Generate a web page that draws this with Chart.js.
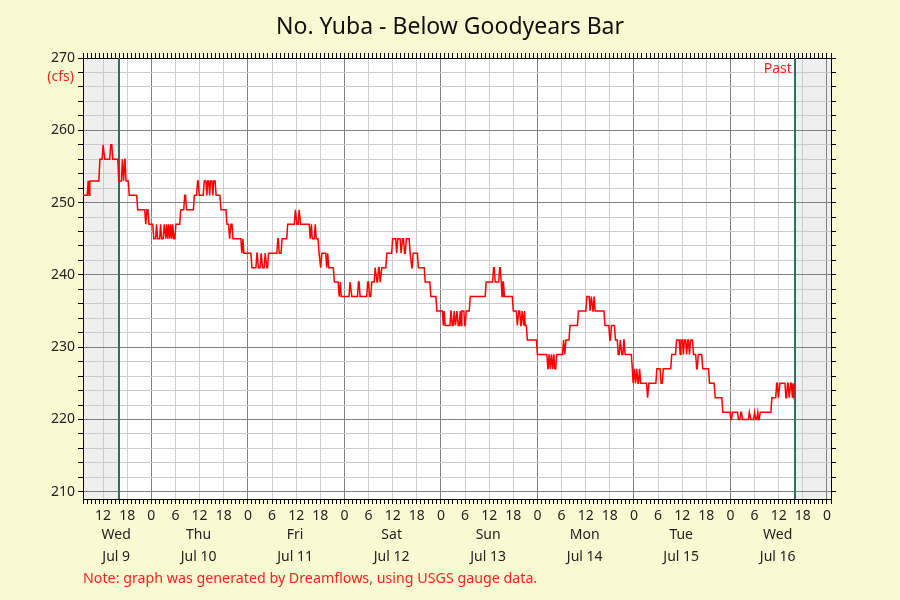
<!DOCTYPE html>
<html>
<head>
<meta charset="utf-8">
<title>No. Yuba - Below Goodyears Bar</title>
<script src="https://cdn.jsdelivr.net/npm/chart.js@4.4.0/dist/chart.umd.min.js"></script>
<style>
  html, body { margin: 0; padding: 0; background: #fafad2; }
  #wrap { width: 900px; height: 600px; position: relative; }
</style>
</head>
<body>
<div id="wrap"><canvas id="flow"></canvas></div>
<script>
// hours counted from Jul 9 00:00; each entry is a time where the gauge reading changes
const changeHours = [
  7.0, 8.3, 8.5, 8.7, 11.2, 12.0, 12.4, 13.9, 14.4, 15.9, 16.8, 17.1, 17.4, 17.7, 18.5, 20.6,
  22.6, 22.9, 23.4, 24.6, 25.3, 25.55, 26.3, 26.55, 27.2, 27.6, 27.8, 28.1, 28.3, 28.6, 28.8, 29.1,
  29.3, 29.6, 30.1, 31.3, 32.3, 32.75, 34.7, 35.5, 35.9, 37.15, 37.8, 38.0, 38.5, 38.7, 39.3, 39.5,
  40.1, 41.3, 42.8, 43.45, 43.8, 44.3, 46.5, 46.75, 47.0, 49.0, 50.25, 50.6, 51.3, 51.65, 52.3, 52.7,
  53.15, 55.45, 55.8, 56.5, 57.9, 59.8, 60.2, 60.75, 61.1, 63.5, 63.8, 64.0, 64.75, 65.0, 65.7, 66.1,
  66.4, 67.6, 67.85, 68.1, 69.5, 70.7, 71.0, 71.2, 73.4, 73.85, 75.5, 75.9, 77.8, 78.25, 78.8, 79.65,
  80.1, 80.5, 80.9, 81.3, 82.55, 84.0, 85.0, 85.3, 86.1, 86.45, 86.95, 87.4, 88.35, 88.75, 89.1, 90.4,
  92.1, 93.5, 95.0, 96.6, 96.8, 97.05, 98.5, 98.8, 99.3, 99.6, 100.0, 100.3, 100.8, 101.0, 101.2, 101.95,
  102.3, 103.3, 107.25, 109.1, 109.5, 110.6, 111.0, 111.2, 111.4, 111.8, 114.0, 115.0, 115.35, 115.85, 116.2, 116.6,
  116.8, 116.95, 117.5, 120.0, 122.6, 122.9, 123.2, 123.5, 123.8, 124.1, 124.3, 124.8, 126.5, 126.8, 127.1, 128.1,
  130.2, 132.3, 133.1, 133.4, 133.8, 134.1, 134.35, 136.8, 138.0, 138.4, 139.4, 140.1, 140.6, 141.0, 141.5, 141.8,
  143.6, 143.8, 144.1, 144.4, 144.7, 145.0, 145.4, 145.7, 147.4, 147.7, 149.7, 150.75, 151.3, 153.4, 154.6, 155.5,
  155.7, 156.3, 156.55, 157.1, 157.4, 157.8, 158.1, 158.8, 159.6, 160.0, 161.1, 162.8, 164.2, 166.1, 168.1, 168.5,
  170.0, 170.6, 171.0, 172.7, 173.05, 174.0, 174.3, 174.8, 175.0, 175.4, 178.3, 179.5, 179.9, 180.3, 181.8, 182.2,
  182.6, 183.0, 183.4, 183.6, 183.75, 183.85
];
const flowCfs = [
  251, 253, 251, 253, 256, 258, 256, 258, 256, 253, 256, 253, 256, 253, 251, 249,
  247, 249, 247, 245, 247, 245, 247, 245, 247, 245, 247, 245, 247, 245, 247, 245,
  247, 245, 247, 249, 251, 249, 251, 253, 251, 253, 251, 253, 251, 253, 251, 253,
  251, 249, 247, 245, 247, 245, 243, 245, 243, 241, 243, 241, 243, 241, 243, 241,
  243, 245, 243, 245, 247, 249, 247, 249, 247, 245, 247, 245, 247, 245, 243, 241,
  243, 241, 243, 241, 239, 237, 239, 237, 239, 237, 239, 237, 239, 237, 239, 241,
  239, 241, 239, 241, 243, 245, 243, 245, 243, 245, 243, 245, 243, 241, 243, 241,
  239, 237, 235, 233, 235, 233, 235, 233, 235, 233, 235, 233, 235, 233, 235, 233,
  235, 237, 239, 241, 239, 241, 239, 237, 239, 237, 235, 233, 235, 233, 235, 233,
  235, 233, 231, 229, 227, 229, 227, 229, 227, 229, 227, 229, 231, 229, 231, 233,
  235, 237, 235, 237, 235, 237, 235, 233, 231, 233, 231, 229, 231, 229, 231, 229,
  227, 225, 227, 225, 227, 225, 227, 225, 223, 225, 227, 225, 227, 229, 231, 229,
  231, 229, 231, 229, 231, 229, 231, 229, 227, 229, 227, 225, 223, 221, 220, 221,
  220, 221, 220, 221, 220, 221, 220, 221, 220, 221, 223, 225, 223, 225, 223, 225,
  223, 225, 223, 225, 223, 223
];
const weekdays = ['Wed', 'Thu', 'Fri', 'Sat', 'Sun', 'Mon', 'Tue', 'Wed'];
const dates = ['Jul 9', 'Jul 10', 'Jul 11', 'Jul 12', 'Jul 13', 'Jul 14', 'Jul 15', 'Jul 16'];
const cfsLabels = [210, 220, 230, 240, 250, 260, 270];

const xMin = 7, xMax = 193;          // Jul 9 07:00 .. Jul 17 01:00
const windowStart = 16, windowEnd = 184;  // unshaded 7-day window
const yMin = 209, yMax = 270;
const sampleStep = 0.25;             // gauge reports every 15 minutes

const red = '#ff1e1e';
const font = 'Noto Sans';

let hourTicks = [];
for (let h = xMin; h <= xMax; h++) hourTicks.push(h);
let cfsTicks = [];
for (let v = cfsLabels[0]; v <= cfsLabels[cfsLabels.length - 1]; v += 2) cfsTicks.push(v);

// a reading holds until the next 15 min sample, so the change is drawn
// between the last sample of the old value and the first of the new one
let readings = [];
changeHours.forEach((h, i) => {
  if (i > 0 && h - sampleStep > changeHours[i - 1]) {
    readings.push({ x: h - sampleStep, y: flowCfs[i - 1] });
  }
  readings.push({ x: h, y: flowCfs[i] });
});

const decorations = {
  id: 'decorations',
  beforeDraw(chart) {
    const { ctx, chartArea: a } = chart;
    const x = chart.scales.x;
    ctx.save();
    ctx.fillStyle = '#ffffff';
    ctx.fillRect(a.left, a.top, a.width, a.height);
    ctx.fillStyle = '#efefef';
    const l = x.getPixelForValue(windowStart);
    const r = x.getPixelForValue(windowEnd);
    ctx.fillRect(a.left, a.top, l - a.left, a.height);
    ctx.fillRect(r, a.top, a.right - r, a.height);
    ctx.restore();
  },
  beforeDatasetsDraw(chart) {
    const { ctx, chartArea: a } = chart;
    const x = chart.scales.x;
    ctx.save();
    ctx.strokeStyle = '#2f6f5f';
    ctx.lineWidth = 2;
    [windowStart, windowEnd].forEach(h => {
      const px = Math.round(x.getPixelForValue(h));
      ctx.beginPath();
      ctx.moveTo(px, a.top);
      ctx.lineTo(px, a.bottom);
      ctx.stroke();
    });
    ctx.restore();
  },
  afterDraw(chart) {
    const { ctx, chartArea: a } = chart;
    const x = chart.scales.x;
    ctx.save();
    ctx.textBaseline = 'middle';

    ctx.fillStyle = '#111';
    ctx.textAlign = 'center';
    ctx.font = '23px "' + font + '"';
    ctx.fillText('No. Yuba - Below Goodyears Bar', 450, 27);

    ctx.font = '14px "' + font + '"';
    ctx.fillStyle = red;
    ctx.textAlign = 'right';
    ctx.fillText('(cfs)', a.left - 9, 77);
    ctx.fillText('Past', x.getPixelForValue(windowEnd) - 3, 69);

    // day name + date under the hour labels
    ctx.fillStyle = '#222';
    ctx.textAlign = 'center';
    weekdays.forEach((d, i) => {
      const lo = Math.max(i * 24, xMin);
      const hi = Math.min(i * 24 + 24, xMax);
      const cx = x.getPixelForValue((lo + hi) / 2) - 1;
      ctx.fillText(d, cx, 535);
      ctx.fillText(dates[i], cx, 557);
    });

    ctx.font = '14.25px "' + font + '"';
    ctx.fillStyle = red;
    ctx.textAlign = 'left';
    ctx.fillText('Note: graph was generated by Dreamflows, using USGS gauge data.', a.left, 579);
    ctx.restore();
  }
};

const clear = 'rgba(0,0,0,0)';

new Chart(document.getElementById('flow'), {
  type: 'line',
  data: {
    datasets: [{
      data: readings,
      borderColor: '#ff0000',
      borderWidth: 1.5,
      tension: 0,
      pointRadius: 0,
      fill: false
    }]
  },
  options: {
    responsive: true,
    maintainAspectRatio: false,
    animation: false,
    layout: { padding: 0 },
    plugins: { legend: { display: false }, tooltip: { enabled: false } },
    scales: {
      x: {
        type: 'linear', position: 'bottom', min: xMin, max: xMax,
        afterBuildTicks: s => { s.ticks = hourTicks.map(v => ({ value: v })); },
        afterFit: s => { s.height = 101; },
        border: { color: '#000' },
        grid: {
          color: c => {
            if (!c.tick) return clear;
            const v = c.tick.value;
            if (v % 24 === 0) return '#808080';
            if (v % 6 === 0) return '#cccccc';
            return clear;
          },
          tickColor: '#000', tickLength: 5
        },
        ticks: {
          autoSkip: false, maxRotation: 0, padding: 4, color: '#222',
          font: { family: font, size: 14 },
          callback: v => (v % 6 === 0 ? String(v % 24) : '')
        }
      },
      x2: {
        type: 'linear', position: 'top', min: xMin, max: xMax,
        afterBuildTicks: s => { s.ticks = hourTicks.map(v => ({ value: v })); },
        afterFit: s => { s.height = 58; },
        border: { color: '#000' },
        grid: { drawOnChartArea: false, tickColor: '#000', tickLength: 5 },
        ticks: { display: false, autoSkip: false }
      },
      y: {
        position: 'left', min: yMin, max: yMax,
        afterBuildTicks: s => { s.ticks = cfsTicks.map(v => ({ value: v })); },
        afterFit: s => { s.width = 83; },
        border: { color: '#000' },
        grid: {
          color: c => (c.tick && c.tick.value % 10 === 0 ? '#808080' : '#cccccc'),
          tickColor: '#000', tickLength: 5
        },
        ticks: {
          autoSkip: false, padding: 3, color: '#222',
          font: { family: font, size: 14 },
          callback: v => (cfsLabels.includes(v) ? String(v) : '')
        }
      },
      y2: {
        position: 'right', min: yMin, max: yMax,
        afterBuildTicks: s => { s.ticks = cfsTicks.map(v => ({ value: v })); },
        afterFit: s => { s.width = 69; },
        border: { color: '#000' },
        grid: { drawOnChartArea: false, tickColor: '#000', tickLength: 5 },
        ticks: { display: false, autoSkip: false }
      }
    }
  },
  plugins: [decorations]
});
</script>
</body>
</html>
